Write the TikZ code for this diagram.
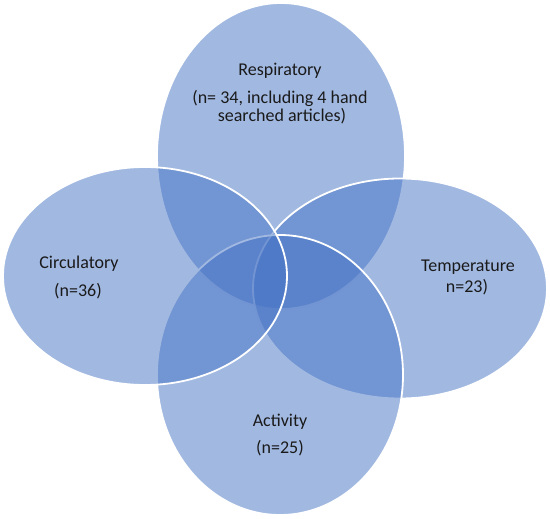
\documentclass[tikz,border=0pt]{standalone}
\usepackage{fontspec}
\setmainfont{Carlito}
\usetikzlibrary{shapes.geometric}
\definecolor{vennblue}{HTML}{4472C4}
\definecolor{labeltext}{HTML}{1A1A1A}
\tikzset{
  vennset/.style={ellipse, inner sep=0pt, outer sep=0pt, fill=vennblue, fill opacity=0.5, draw=white, line width=1.8pt},
  vennlabel/.style={anchor=base, inner sep=0pt, text=labeltext, font=\fontsize{18}{22}\selectfont}
}
\begin{document}
\begin{tikzpicture}[x=1pt,y=-1pt]
\useasboundingbox (0,0) rectangle (550,519);
% sets, drawn in stacking order
\node[vennset, minimum width=248pt, minimum height=306pt] (resp) at (281,156) {};
\node[vennset, minimum width=294pt, minimum height=220pt] (temp) at (400,288.5) {};
\node[vennset, minimum width=246pt, minimum height=280pt] (act) at (280,375) {};
\node[vennset, minimum width=284pt, minimum height=218pt] (circ) at (145,276) {};
% labels
\node[vennlabel] (respA) at (280,76) {Respiratory};
\node[vennlabel] (respB) at (280,104) {(n= 34, including 4 hand};
\node[vennlabel] (respC) at (282,122) {searched articles)};
\node[vennlabel] (circA) at (79,269) {Circulatory};
\node[vennlabel] (circB) at (78,296) {(n=36)};
\node[vennlabel] (tempA) at (468,271) {Temperature};
\node[vennlabel] (tempB) at (467,292) {n=23)};
\node[vennlabel] (actA) at (280,426) {Activity};
\node[vennlabel] (actB) at (280,453) {(n=25)};
\end{tikzpicture}
\end{document}
